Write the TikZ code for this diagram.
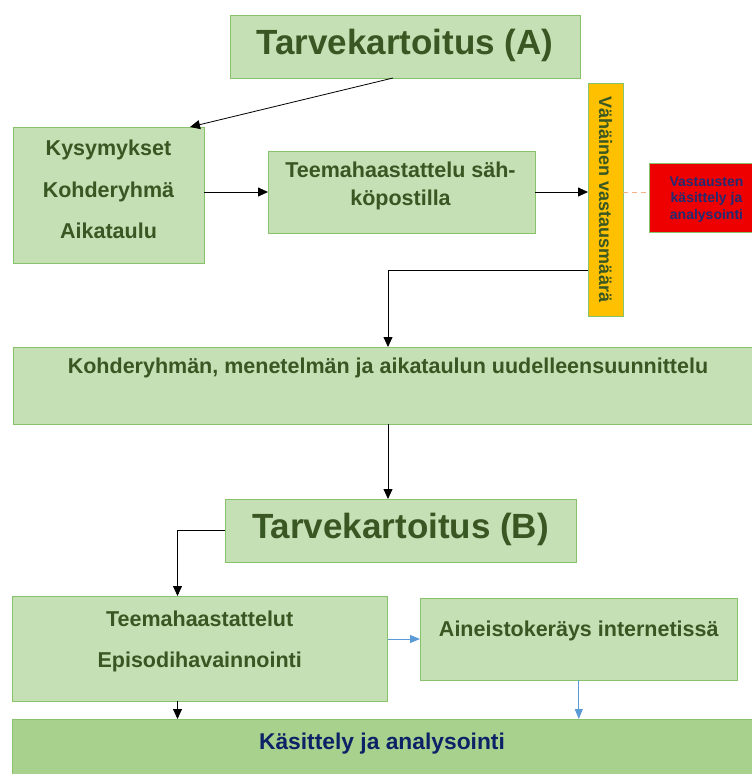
\documentclass[tikz,border=0pt]{standalone}
\usepackage{fontspec}
\setmainfont{Liberation Sans}
\usetikzlibrary{arrows.meta}
\definecolor{gfill}{HTML}{C5E0B4}
\definecolor{gdark}{HTML}{A9D18E}
\definecolor{gborder}{HTML}{88C26A}
\definecolor{gtext}{HTML}{385723}
\definecolor{navy}{HTML}{0B2266}
\definecolor{rtext}{HTML}{232A72}
\definecolor{yel}{HTML}{FFC000}
\definecolor{redbox}{HTML}{EE0000}
\definecolor{blueline}{HTML}{5B9BD5}
\definecolor{orangedash}{HTML}{F4B183}
\tikzset{
  gbox/.style={draw=gborder, fill=gfill, line width=1pt, inner sep=0pt, outer sep=0pt, anchor=north west},
  txt/.style={inner sep=0pt, anchor=base, text=gtext, font=\bfseries\fontsize{21.5}{21.5}\selectfont},
  big/.style={inner sep=0pt, anchor=base, text=gtext, font=\bfseries\fontsize{35}{35}\selectfont},
  rtxt/.style={inner sep=0pt, anchor=base, text=rtext, font=\bfseries\fontsize{14}{14}\selectfont},
  arr/.style={draw=black, line width=0.8pt, -{Triangle[length=10pt,width=9pt]}},
  barr/.style={draw=blueline, line width=0.9pt, -{Triangle[length=10pt,width=8pt]}},
}
\begin{document}
\begin{tikzpicture}[x=1pt,y=-1pt]
\useasboundingbox (0,0) rectangle (752,774);
\begin{scope}
\clip (0,0) rectangle (752,774);
% boxes
\node[gbox, minimum width=350pt, minimum height=63pt] (A) at (230,15) {};
\node[gbox, minimum width=191pt, minimum height=136pt] (kys) at (13,127) {};
\node[gbox, minimum width=267pt, minimum height=82pt] (tee) at (268,151) {};
\node[gbox, fill=yel, minimum width=35pt, minimum height=233pt] (yb) at (588,83) {};
\node[gbox, fill=redbox, minimum width=115pt, minimum height=69pt] (rb) at (649,163) {};
\node[gbox, minimum width=750pt, minimum height=77pt] (kohd) at (13,347) {};
\node[gbox, minimum width=351pt, minimum height=63pt] (B) at (225,499) {};
\node[gbox, minimum width=375.5pt, minimum height=105pt] (tt) at (12,596) {};
\node[gbox, minimum width=317.6pt, minimum height=82pt] (ain) at (420,598) {};
\node[gbox, fill=gdark, minimum width=760pt, minimum height=70pt] (kas) at (12,719) {};
% texts
\node[big] (tA) at (405,54) {Tarvekartoitus (A)};
\node[txt] (t1) at (108.5,155) {Kysymykset};
\node[txt] (t2) at (108.5,197.7) {Kohderyhmä};
\node[txt] (t3) at (108.5,238.3) {Aikataulu};
\node[txt] (t4) at (400.5,177.7) {Teemahaastattelu säh-};
\node[txt] (t5) at (400.5,205) {köpostilla};
\node[inner sep=0pt, text=gtext, rotate=-90, font=\bfseries\fontsize{18}{18}\selectfont] (ty) at (605.5,199.5) {Vähäinen vastausmäärä};
\node[rtxt] (r1) at (706.5,186) {Vastausten};
\node[rtxt] (r2) at (706.5,202.5) {käsittely ja};
\node[rtxt] (r3) at (706.5,219) {analysointi};
\node[txt] (t6) at (388,373.3) {Kohderyhmän, menetelmän ja aikataulun uudelleensuunnittelu};
\node[big] (tB) at (400.5,538.3) {Tarvekartoitus (B)};
\node[txt] (t7) at (199.7,626) {Teemahaastattelut};
\node[txt] (t8) at (199.7,667.7) {Episodihavainnointi};
\node[txt] (t9) at (578.8,636.7) {Aineistokeräys internetissä};
\node[txt, text=navy, font=\bfseries\fontsize{22.8}{22.8}\selectfont] (t10) at (382,749.3) {Käsittely ja analysointi};
% connectors
\draw[arr] ([xshift=-12pt]A.south) -- ([xshift=81.5pt]kys.north);
\draw[arr] (kys.east |- tee.west) -- (tee.west);
\draw[arr] (tee.east) -- (yb.west |- tee.east);
\draw[orangedash, line width=0.9pt, dash pattern=on 5pt off 4pt] (yb.east |- tee.east) -- (rb.west |- tee.east);
\coordinate (ys) at ([yshift=-70.5pt]yb.west);
\draw[arr] (ys) -| (kohd.north);
\draw[arr] (kohd.south) -- (kohd.south |- B.north);
\coordinate (tn) at ([xshift=-22.25pt]tt.north);
\draw[arr] (B.west) -| (tn);
\coordinate (ts) at ([xshift=-22.25pt]tt.south);
\draw[arr] (ts) -- (ts |- kas.north);
\draw[barr] (tt.east |- ain.west) -- (ain.west);
\draw[barr] (ain.south) -- (ain.south |- kas.north);
\end{scope}
\end{tikzpicture}
\end{document}
